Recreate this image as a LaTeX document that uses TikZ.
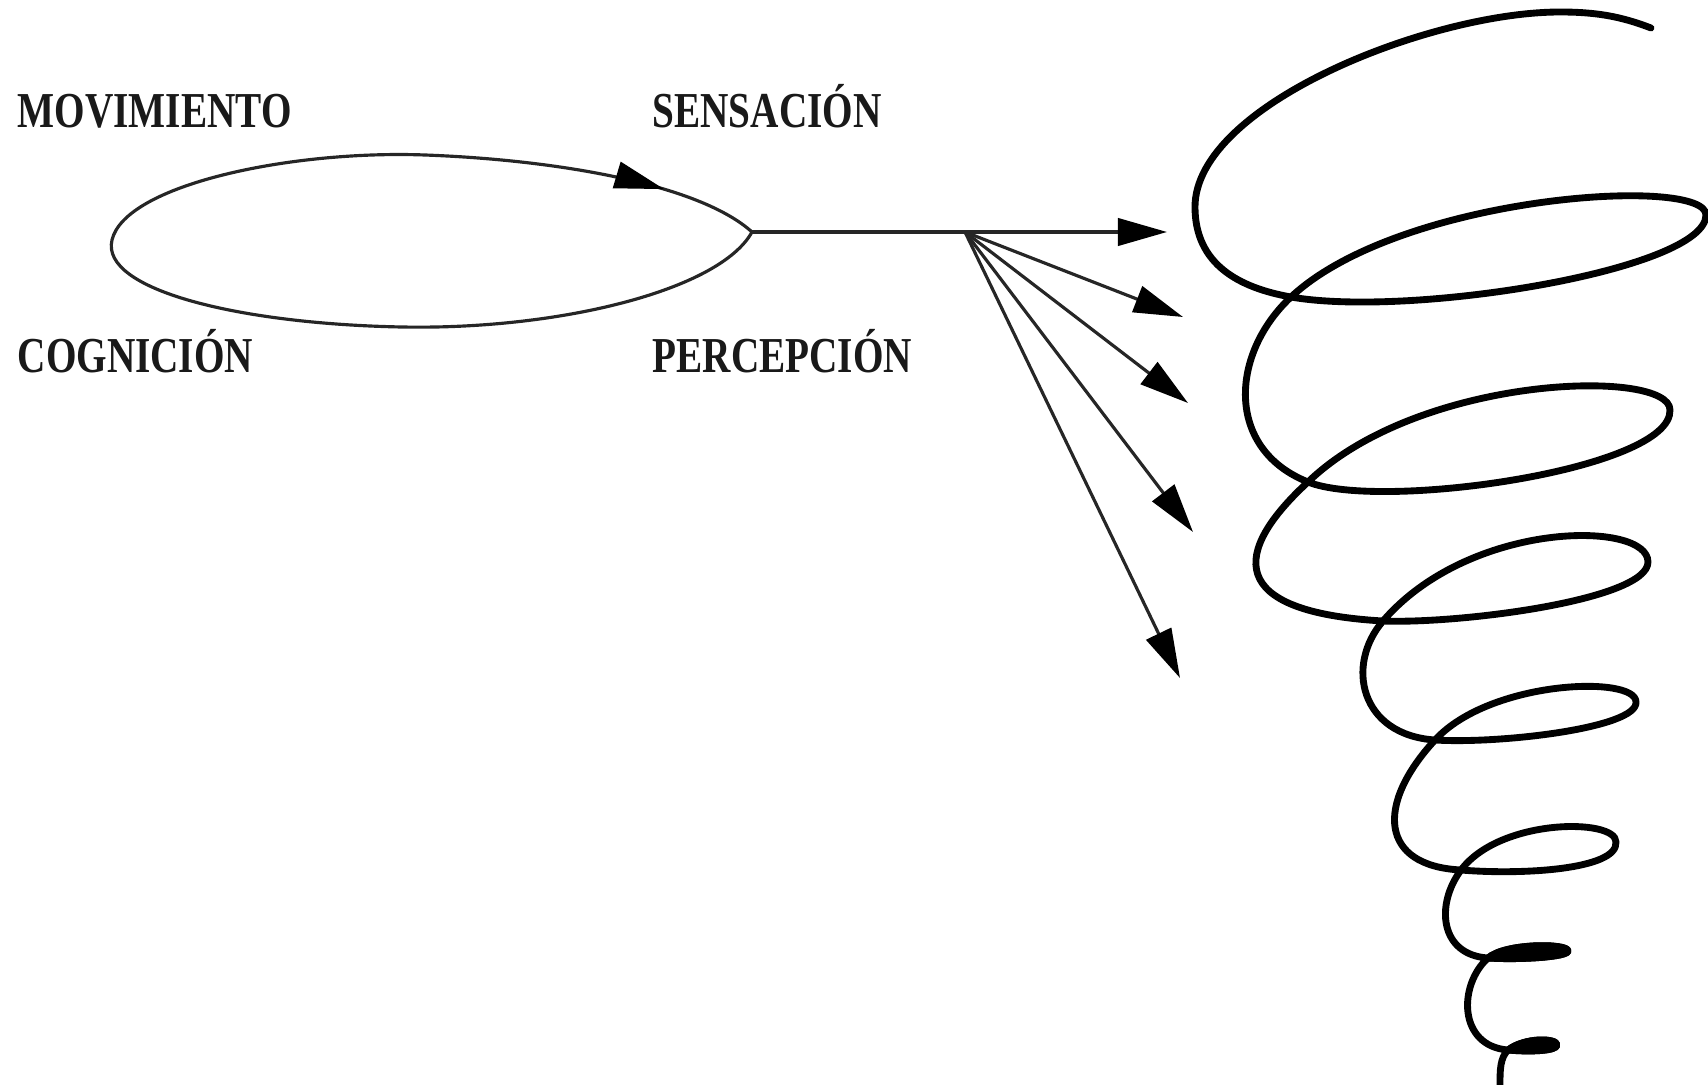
\documentclass[tikz,border=0pt]{standalone}
\usepackage{fontspec}
\usetikzlibrary{arrows.meta,decorations.markings}
\newfontfamily\lblfont[FakeStretch=0.78]{Liberation Serif}
\tikzset{
  thinline/.style={line width=0.9pt, draw=black!85},
  headtip/.tip={Triangle[length=14pt,width=7.8pt,color=black]},
  fanarrow/.style={thinline, -headtip},
  lbl/.style={font=\lblfont\bfseries\fontsize{14.3pt}{17pt}\selectfont, inner sep=0pt, anchor=base west, text=black!90},
  spiralline/.style={line width=1.95pt, line cap=round, line join=round, draw=black},
  blob/.style={fill=black, draw=black, line width=1.95pt, line join=round},
}
\begin{document}
\begin{tikzpicture}[x=0.01cm,y=-0.01cm]
\useasboundingbox (0,0) rectangle (1708,1085);

% labels
\node[lbl] (mov) at (17,128) {MOVIMIENTO};
\node[lbl] (sen) at (652,128) {SENSACIÓN};
\node[lbl] (cog) at (17,373) {COGNICIÓN};
\node[lbl] (per) at (652,373) {PERCEPCIÓN};

% loop (lens)
\coordinate (L) at (112,240);
\coordinate (Top) at (425,155);
\coordinate (R) at (752,232);
\coordinate (Bot) at (402,327);
\draw[thinline] (L) .. controls (125,185) and (290,150) .. (Top)
  .. controls (560,160) and (700,185) .. (R)
  .. controls (720,290) and (560,330) .. (Bot)
  .. controls (240,324) and (100,290) .. (L) -- cycle;
\path[decorate, decoration={markings, mark=at position 0.71 with {\arrow{headtip}}}]
  (Top) .. controls (560,160) and (700,185) .. (R);

% fan of arrows
\coordinate (F) at (965,232);
\coordinate (T0) at (1167,232);
\coordinate (T1) at (1183,317);
\coordinate (T2) at (1188,403);
\coordinate (T3) at (1193,532);
\coordinate (T4) at (1180,678);
\draw[fanarrow] (R) -- (T0);
\draw[fanarrow] (F) -- (T1);
\draw[fanarrow] (F) -- (T2);
\draw[fanarrow] (F) -- (T3);
\draw[fanarrow] (F) -- (T4);

% spiral
\draw[spiralline] (1651,28) .. controls (1620,16) and (1595,12) .. (1560,12)
 .. controls (1430,12) and (1195,105) .. (1195,207)
 .. controls (1195,265) and (1240,288) .. (1291,297)
 .. controls (1410,318) and (1706,270) .. (1706,215)
 .. controls (1706,175) and (1400,195) .. (1291,297)
 .. controls (1230,354) and (1225,449) .. (1308,482)
 .. controls (1380,511) and (1672,470) .. (1670,410)
 .. controls (1670,368) and (1420,374) .. (1308,482)
 .. controls (1232,552) and (1225,612) .. (1383,621)
 .. controls (1460,624) and (1648,600) .. (1648,562)
 .. controls (1648,520) and (1470,520) .. (1383,621)
 .. controls (1345,665) and (1360,735) .. (1435,740)
 .. controls (1500,744) and (1638,728) .. (1636,702)
 .. controls (1636,675) and (1490,680) .. (1435,740)
 .. controls (1375,805) and (1380,866) .. (1461,870)
 .. controls (1520,875) and (1618,870) .. (1616,842)
 .. controls (1616,818) and (1500,818) .. (1461,870)
 .. controls (1435,905) and (1440,955) .. (1488,958)
 .. controls (1520,960) and (1568,957) .. (1568,951)
 .. controls (1568,943) and (1505,943) .. (1488,958)
 .. controls (1458,985) and (1458,1046) .. (1508,1050)
 .. controls (1530,1052) and (1557,1051) .. (1557,1045)
 .. controls (1557,1038) and (1525,1037) .. (1508,1050)
 .. controls (1500,1058) and (1500,1070) .. (1500,1085);
% filled small end loops
\filldraw[blob] (1488,958) .. controls (1520,960) and (1568,957) .. (1568,951)
 .. controls (1568,943) and (1505,943) .. (1488,958) -- cycle;
\filldraw[blob] (1508,1050) .. controls (1530,1052) and (1557,1051) .. (1557,1045)
 .. controls (1557,1038) and (1525,1037) .. (1508,1050) -- cycle;
\end{tikzpicture}
\end{document}
